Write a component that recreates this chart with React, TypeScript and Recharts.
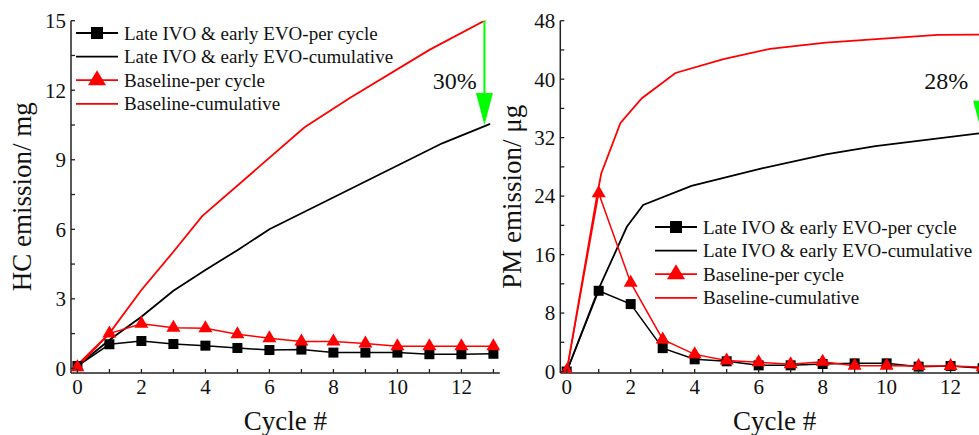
import React from 'react';
import { LineChart, Line, XAxis, YAxis, Legend, ReferenceLine, ReferenceDot, Label } from 'recharts';

// ---------- data ----------
const cycles = [0, 1, 2, 3, 4, 5, 6, 7, 8, 9, 10, 11, 12, 13];
const xLabelTicks = [0, 2, 4, 6, 8, 10, 12];

// HC (mg)
const hcLatePerCycle = [0.1, 1.04, 1.18, 1.05, 0.98, 0.88, 0.79, 0.81, 0.68, 0.68, 0.68, 0.61, 0.61, 0.63];
const hcBasePerCycle = [0.05, 1.5, 1.92, 1.75, 1.73, 1.47, 1.3, 1.16, 1.16, 1.07, 0.95, 0.95, 0.95, 0.95];
const hcLateCumX = [0, 1, 2, 3, 4, 5, 6, 9, 11.4, 12.9];
const hcLateCumY = [0.1, 1.22, 2.23, 3.35, 4.24, 5.1, 6.0, 8.06, 9.71, 10.55];
const hcBaseCumX = [0, 1, 2, 3, 3.9, 7.1, 8.5, 11, 13.2];
const hcBaseCumY = [0.15, 1.51, 3.38, 5.03, 6.57, 10.4, 11.65, 13.74, 15.35];
const hcTicks = [0, 1.5, 3, 4.5, 6, 7.5, 9, 10.5, 12, 13.5, 15];
const hcLabelTicks = [0, 3, 6, 9, 12, 15];

// PM (ug)
const pmLatePerCycle = [0, 11.05, 9.23, 3.2, 1.67, 1.4, 0.85, 0.85, 1.03, 1.12, 1.12, 0.67, 0.75, 0.45];
const pmBasePerCycle = [0.1, 24.4, 12.15, 4.4, 2.35, 1.5, 1.26, 1.0, 1.35, 0.8, 0.8, 0.75, 0.75, 0.6];
const pmLateCumX = [0, 1, 1.88, 2.39, 3.9, 6.1, 8.1, 9.65, 13.2];
const pmLateCumY = [0, 11.3, 19.8, 22.8, 25.4, 27.8, 29.7, 30.85, 32.75];
const pmBaseCumX = [0, 0.97, 1.08, 1.68, 2.35, 3.4, 4.9, 6.35, 8.1, 11.6, 13.2];
const pmBaseCumY = [0, 24.6, 27.1, 34.0, 37.4, 40.85, 42.75, 44.15, 45.0, 46.05, 46.1];
const pmTicks = [0, 4, 8, 12, 16, 20, 24, 28, 32, 36, 40, 44, 48];
const pmLabelTicks = [0, 8, 16, 24, 32, 40, 48];

const legendLabels = [
  'Late IVO & early EVO-per cycle',
  'Late IVO & early EVO-cumulative',
  'Baseline-per cycle',
  'Baseline-cumulative',
];

const hcReduction = '30%';
const pmReduction = '28%';

// ---------- helpers ----------
const toPts = (xs: number[], ys: number[]) => xs.map((x, i) => ({ x, y: ys[i] }));

const FONT = '"Liberation Serif", "Times New Roman", Times, serif';
const AXIS = '#222';
const RED = '#ff0000';
const GREEN = '#00ff00';

const SquareDot = (props: any) => {
  const { cx, cy, index } = props;
  if (cx == null || cy == null) return <g key={`sq-${index}`} />;
  return <rect key={`sq-${index}`} x={cx - 5} y={cy - 5} width={10} height={10} fill="#000" />;
};

const triPoints = (cx: number, cy: number, w: number, h: number) =>
  `${cx},${cy - (2 * h) / 3} ${cx - w / 2},${cy + h / 3} ${cx + w / 2},${cy + h / 3}`;

const TriDot = (props: any) => {
  const { cx, cy, index } = props;
  if (cx == null || cy == null) return <g key={`tr-${index}`} />;
  return <polygon key={`tr-${index}`} points={triPoints(cx, cy, 14, 12)} fill={RED} />;
};

const makeYTick = (labels: number[]) => (props: any) => {
  const { x, y, payload } = props;
  const v = payload.value;
  return (
    <g>
      <line x1={x} x2={x + 4} y1={y} y2={y} stroke={AXIS} strokeWidth={1.3} />
      {labels.includes(v) && (
        <text x={x - 5} y={y} dy="0.35em" textAnchor="end" fontSize={21} fontFamily={FONT} fill="#111">
          {v}
        </text>
      )}
    </g>
  );
};

const XTick = (props: any) => {
  const { x, y, payload } = props;
  const v = payload.value;
  return (
    <g>
      <line x1={x} x2={x} y1={y} y2={y - 4} stroke={AXIS} strokeWidth={1.3} />
      {xLabelTicks.includes(v) && (
        <text x={x} y={y + 21} textAnchor="middle" fontSize={21} fontFamily={FONT} fill="#111">
          {v}
        </text>
      )}
    </g>
  );
};

const LegendBox = ({ rowGap, sq, tri }: { rowGap: number; sq: number; tri: [number, number] }) => (
  <svg width={330} height={110} style={{ display: 'block', overflow: 'visible' }}>
    {legendLabels.map((lab, i) => {
      const cy = 14 + i * rowGap;
      const color = i < 2 ? '#000' : RED;
      return (
        <g key={lab}>
          <line x1={6} x2={48} y1={cy} y2={cy} stroke={color} strokeWidth={1.8} />
          {i === 0 && <rect x={27 - sq / 2} y={cy - sq / 2} width={sq} height={sq} fill="#000" />}
          {i === 2 && <polygon points={triPoints(27, cy, tri[0], tri[1])} fill={RED} />}
          <text x={54} y={cy + 6.5} fontSize={19} fontFamily={FONT} fill="#111">
            {lab}
          </text>
        </g>
      );
    })}
  </svg>
);

const Arrow = (props: any) => {
  const { cx, cy } = props;
  if (cx == null || cy == null) return <g />;
  return <polygon points={`${cx},${cy} ${cx - 8.5},${cy - 32} ${cx + 8.5},${cy - 32}`} fill={GREEN} />;
};

const PctText = (txt: string) => (props: any) => {
  const { cx, cy } = props;
  if (cx == null || cy == null) return <g />;
  return (
    <text x={cx} y={cy} textAnchor="end" fontSize={24} fontFamily={FONT} fill="#111">
      {txt}
    </text>
  );
};

interface PanelProps {
  width: number;
  yTicks: number[];
  yLabelTicks: number[];
  yDomain: [number, number];
  yLabel: string;
  yAxisWidth: number;
  yLabelX: number;
  latePer: number[];
  basePer: number[];
  lateCum: { x: number; y: number }[];
  baseCum: { x: number; y: number }[];
  marginRight: number;
  legendPos: { left: number; top: number };
  arrowX: number;
  arrowTop: number;
  arrowHeadTop: number;
  arrowTip: number;
  pct: string;
  pctPos: { x: number; y: number };
}

const Panel = (p: PanelProps) => {
  const latePerData = toPts(cycles, p.latePer);
  const basePerData = toPts(cycles, p.basePer);
  return (
    <LineChart width={p.width} height={435} margin={{ top: 20.7, right: p.marginRight, bottom: 0, left: 0 }}>
      <XAxis
        type="number"
        dataKey="x"
        domain={[-0.2, 13.2]}
        allowDataOverflow
        ticks={cycles}
        interval={0}
        tick={XTick}
        tickLine={false}
        tickSize={0}
        tickMargin={0}
        height={62}
        axisLine={{ stroke: AXIS, strokeWidth: 1.5 }}
      >
        <Label
          content={(lp: any) => {
            const vb = lp.viewBox || {};
            return (
              <text x={vb.x + vb.width / 2} y={vb.y + 57} textAnchor="middle" fontSize={27} fontFamily={FONT} fill="#111">
                Cycle #
              </text>
            );
          }}
        />
      </XAxis>
      <YAxis
        type="number"
        domain={p.yDomain}
        allowDataOverflow
        ticks={p.yTicks}
        interval={0}
        tick={makeYTick(p.yLabelTicks)}
        tickLine={false}
        tickSize={0}
        tickMargin={0}
        width={p.yAxisWidth}
        axisLine={{ stroke: AXIS, strokeWidth: 1.5 }}
      >
        <Label
          content={(lp: any) => {
            const vb = lp.viewBox || {};
            const cy = vb.y + vb.height / 2;
            return (
              <text
                transform={`translate(${p.yLabelX}, ${cy}) rotate(-90)`}
                textAnchor="middle"
                dy="0.35em"
                fontSize={27}
                fontFamily={FONT}
                fill="#111"
              >
                {p.yLabel}
              </text>
            );
          }}
        />
      </YAxis>
      <Line data={latePerData} dataKey="y" stroke="#000" strokeWidth={1.5} dot={SquareDot} isAnimationActive={false} legendType="none" />
      <Line data={p.lateCum} dataKey="y" stroke="#000" strokeWidth={1.8} dot={false} isAnimationActive={false} legendType="none" />
      <Line data={basePerData} dataKey="y" stroke={RED} strokeWidth={1.5} dot={TriDot} isAnimationActive={false} legendType="none" />
      <Line data={p.baseCum} dataKey="y" stroke={RED} strokeWidth={1.8} dot={false} isAnimationActive={false} legendType="none" />
      <ReferenceLine
        segment={[
          { x: p.arrowX, y: p.arrowTop },
          { x: p.arrowX, y: p.arrowHeadTop },
        ]}
        stroke={GREEN}
        strokeWidth={2}
      />
      <ReferenceDot x={p.arrowX} y={p.arrowTip} shape={Arrow} />
      <ReferenceDot x={p.pctPos.x} y={p.pctPos.y} shape={PctText(p.pct)} />
      <Legend
        layout="horizontal"
        verticalAlign="middle"
        align="center"
        wrapperStyle={{ left: p.legendPos.left, top: p.legendPos.top, width: 330, height: 110, margin: 0, padding: 0 }}
        content={() => <LegendBox rowGap={23.6} sq={12} tri={[18, 15]} />}
      />
    </LineChart>
  );
};

export default function App() {
  return (
    <div
      style={{
        position: 'absolute',
        left: 0,
        top: 0,
        width: 979,
        height: 435,
        overflow: 'hidden',
        background: '#fff',
      }}
    >
      <div style={{ position: 'absolute', left: 0, top: 0 }}>
        <Panel
          width={500}
          yTicks={hcTicks}
          yLabelTicks={hcLabelTicks}
          yDomain={[-0.2, 15]}
          yLabel="HC emission/ mg"
          yAxisWidth={71}
          yLabelX={22}
          latePer={hcLatePerCycle}
          basePer={hcBasePerCycle}
          lateCum={toPts(hcLateCumX, hcLateCumY)}
          baseCum={toPts(hcBaseCumX, hcBaseCumY)}
          marginRight={0.2}
          legendPos={{ left: 70, top: 19 }}
          arrowX={12.72}
          arrowTop={15}
          arrowHeadTop={11.88}
          arrowTip={10.5}
          pct={hcReduction}
          pctPos={{ x: 12.48, y: 12.04 }}
        />
      </div>
      <div style={{ position: 'absolute', left: 480, top: 0 }}>
        <Panel
          width={540}
          yTicks={pmTicks}
          yLabelTicks={pmLabelTicks}
          yDomain={[-0.2, 48]}
          yLabel="PM emission/ μg"
          yAxisWidth={80.3}
          yLabelX={32}
          latePer={pmLatePerCycle}
          basePer={pmBasePerCycle}
          lateCum={toPts(pmLateCumX, pmLateCumY)}
          baseCum={toPts(pmBaseCumX, pmBaseCumY)}
          marginRight={31}
          legendPos={{ left: 169.3, top: 213 }}
          arrowX={12.97}
          arrowTop={46.1}
          arrowHeadTop={37.24}
          arrowTip={32.67}
          pct={pmReduction}
          pctPos={{ x: 12.55, y: 38.7 }}
        />
      </div>
    </div>
  );
}
